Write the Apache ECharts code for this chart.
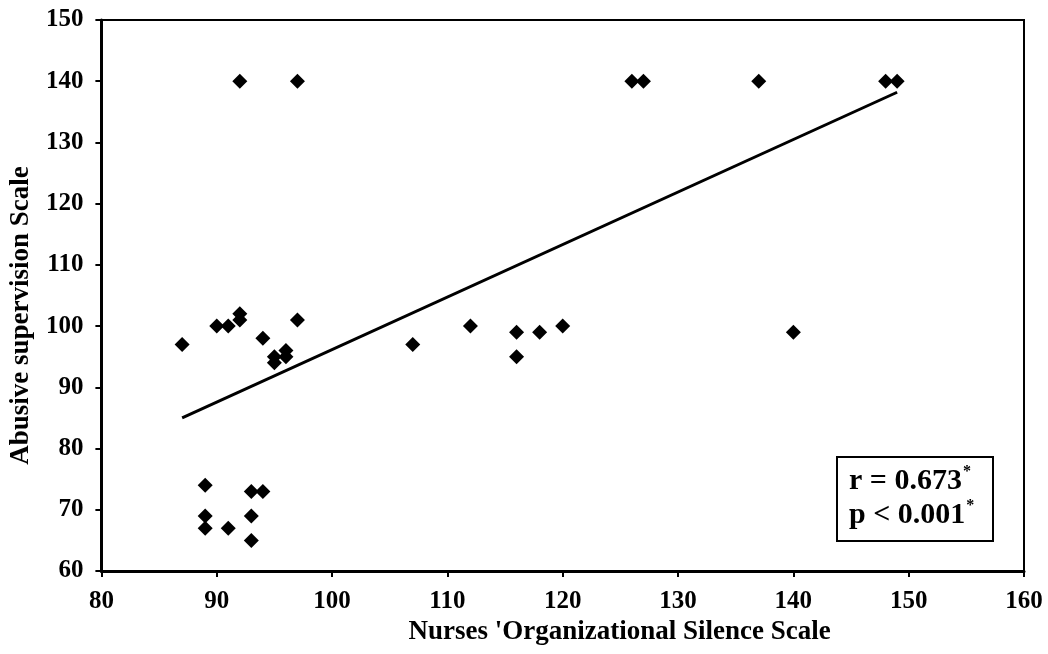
<!DOCTYPE html>
<html>
<head>
<meta charset="utf-8">
<script src="https://cdn.jsdelivr.net/npm/echarts@6/dist/echarts.min.js"></script>
<style>
html,body{margin:0;padding:0;background:#fff;}
#chart{width:1048px;height:654px;}
</style>
</head>
<body>
<div id="chart"></div>
<script>
// Scatter data: [silence score, abusive supervision score]
const silenceScores = [87, 90, 91, 92, 92, 94, 95, 95, 96, 96, 97, 107, 112, 116, 116, 118, 120, 140,
                       92, 97, 126, 127, 137, 148, 149,
                       89, 89, 89, 91, 93, 94, 93, 93];
const abusiveScores = [97, 100, 100, 102, 101, 98, 95, 94, 96, 95, 101, 97, 100, 99, 95, 99, 100, 99,
                       140, 140, 140, 140, 140, 140, 140,
                       74, 69, 67, 67, 73, 73, 69, 65];
// Trend line endpoints
const trendX = [87, 149];
const trendY = [85, 138.2];
// Axis settings
const xTicks = {min: 80, max: 160, interval: 10};
const yTicks = {min: 60, max: 150, interval: 10};
const xTitle = "Nurses 'Organizational Silence Scale";
const yTitle = "Abusive supervision Scale";
const statLines = ["r = 0.673", "p < 0.001"];

const FONT = "Liberation Serif";
const points = silenceScores.map((x, i) => [x, abusiveScores[i]]);
const trend = trendX.map((x, i) => [x, trendY[i]]);

const chart = echarts.init(document.getElementById('chart'));
chart.setOption({
  backgroundColor: '#fff',
  animation: false,
  grid: {left: 101, top: 20, right: 24, bottom: 83, show: true, borderColor: '#000', borderWidth: 2},
  xAxis: {
    type: 'value', min: xTicks.min, max: xTicks.max, interval: xTicks.interval,
    name: xTitle, nameLocation: 'middle', nameGap: 48,
    nameTextStyle: {fontFamily: FONT, fontWeight: 'bold', fontSize: 27, color: '#000', padding: [0, 0, 0, 114]},
    axisLine: {show: true, onZero: false, lineStyle: {color: '#000', width: 3}},
    axisTick: {show: true, inside: false, length: 6, lineStyle: {color: '#000', width: 2}},
    axisLabel: {fontFamily: FONT, fontWeight: 'bold', fontSize: 25, color: '#000', margin: 18},
    splitLine: {show: false}
  },
  yAxis: {
    type: 'value', min: yTicks.min, max: yTicks.max, interval: yTicks.interval,
    name: yTitle, nameLocation: 'middle', nameGap: 65,
    nameTextStyle: {fontFamily: FONT, fontWeight: 'bold', fontSize: 27, color: '#000', padding: [0, 40, 0, 0]},
    axisLine: {show: true, onZero: false, lineStyle: {color: '#000', width: 3}},
    axisTick: {show: true, inside: false, length: 6, lineStyle: {color: '#000', width: 2}},
    axisLabel: {fontFamily: FONT, fontWeight: 'bold', fontSize: 25, color: '#000', margin: 18},
    splitLine: {show: false}
  },
  series: [
    {
      type: 'scatter', data: points, symbol: 'diamond', symbolSize: [15, 15],
      itemStyle: {color: '#000', opacity: 1}, z: 3
    },
    {
      type: 'line', data: trend, showSymbol: false, symbol: 'none',
      lineStyle: {color: '#000', width: 3}, z: 2
    }
  ],
  graphic: [
    {
      type: 'rect', left: 836, top: 456,
      shape: {width: 156, height: 84},
      style: {fill: '#fff', stroke: '#000', lineWidth: 2}, z: 10
    },
    {
      type: 'text', left: 849, top: 464, z: 11,
      style: {
        text: '{m|' + statLines[0] + '}{s|*}\n{m|' + statLines[1] + '}{s|*}',
        rich: {
          m: {fontFamily: FONT, fontWeight: 'bold', fontSize: 30, color: '#000', lineHeight: 34},
          s: {fontFamily: FONT, fontWeight: 'bold', fontSize: 16, color: '#000', lineHeight: 34, verticalAlign: 'top', padding: [0, 0, 12, 1]}
        }
      }
    }
  ]
});
</script>
</body>
</html>
